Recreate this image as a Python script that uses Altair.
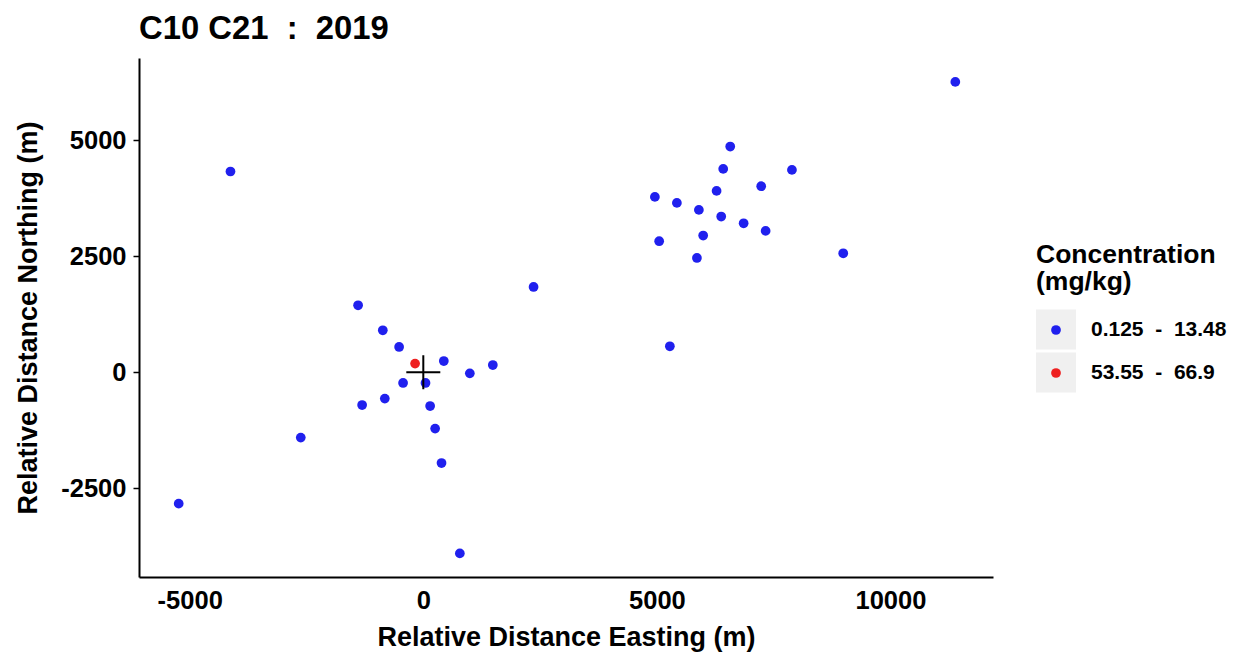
import altair as alt
import pandas as pd

# ---- data ----
east = [-5236, -4128, -2623, -1396, -1310, -867, -824, -518, -433, -176, 47, 146, 253, 390,
        439, 996, 1488, 2360, 782, 5278, 4957, 5049, 5428, 5857, 5899, 5991, 6278, 6377,
        6420, 6570, 6857, 7233, 7328, 7891, 8989, 11388]
north = [-2827, 4322, -1406, 1443, -704, 904, -566, 545, -230, 187, -230, -726, -1212, -1953,
         243, -22, 157, 1837, -3898, 560, 3775, 2821, 3646, 2461, 3495, 2944, 3904, 3353,
         4378, 4860, 3208, 4005, 3043, 4356, 2562, 6251]
group_idx = [0, 0, 0, 0, 0, 0, 0, 0, 0, 1, 0, 0, 0, 0,
             0, 0, 0, 0, 0, 0, 0, 0, 0, 0, 0, 0, 0, 0,
             0, 0, 0, 0, 0, 0, 0, 0]
class_labels = ["0.125\u00a0\u00a0-\u00a0\u00a013.48", "53.55\u00a0\u00a0-\u00a0\u00a066.9"]
class_codes = ["lo", "hi"]
class_colors = ["#2020ee", "#ee2020"]
source_x = [0]
source_y = [0]
x_ticks = [-5000, 0, 5000, 10000]
y_ticks = [-2500, 0, 2500, 5000]

df = pd.DataFrame({
    "x": east,
    "y": north,
    "cls": [class_labels[g] for g in group_idx],
    "grp": [class_codes[g] for g in group_idx],
})
src = pd.DataFrame({"x": source_x, "y": source_y})

FONT = "Liberation Sans"
W, H = 854, 519
PL, PT = 139, 58

xscale = alt.Scale(domain=[-6086, 12195], nice=False, zero=False)
yscale = alt.Scale(domain=[-4406, 6765], nice=False, zero=False)

xaxis = alt.Axis(values=x_ticks, labelExpr="'' + datum.value", title="Relative Distance Easting (m)",
                 grid=False, ticks=False, labelPadding=11, labelFlush=False, labelOverlap=False,
                 titleY=68, titleBaseline="alphabetic")
yaxis = alt.Axis(values=y_ticks, labelExpr="'' + datum.value", title="Relative Distance Northing (m)",
                 grid=False, tickSize=6, labelPadding=7, labelFlush=False, labelOverlap=False,
                 titleX=-103, titleBaseline="alphabetic", titleAngle=270)

# legend background keys (grey squares with labels and title)
keys = alt.Chart(df).mark_square(size=0).encode(
    x=alt.X("x:Q", scale=xscale, axis=xaxis),
    y=alt.Y("y:Q", scale=yscale, axis=yaxis),
    color=alt.Color("cls:N",
                    scale=alt.Scale(domain=class_labels, range=["#f0f0f0", "#f0f0f0"]),
                    legend=alt.Legend(orient="none", legendX=1036 - PL, legendY=184, padding=0,
                                      direction="vertical",
                                      title=["Concentration", "(mg/kg)"], titleFontSize=26.5,
                                      titleLineHeight=27, titlePadding=14, titleColor="black",
                                      titleFont=FONT, titleFontWeight="bold",
                                      symbolType="square", symbolSize=1600, symbolStrokeWidth=0,
                                      symbolOpacity=1, rowPadding=3, labelOffset=15,
                                      labelFontSize=21, labelFont=FONT, labelFontWeight="bold",
                                      labelColor="black")),
)

points = alt.Chart(df).mark_point(filled=True, size=95, opacity=1).encode(
    x=alt.X("x:Q", scale=xscale, axis=xaxis),
    y=alt.Y("y:Q", scale=yscale, axis=yaxis),
    fill=alt.Fill("grp:N",
                  scale=alt.Scale(domain=class_codes, range=class_colors),
                  legend=alt.Legend(orient="none", legendX=897, legendY=252, padding=0,
                                    direction="vertical", title=None,
                                    symbolType="circle", symbolSize=95, symbolStrokeWidth=0,
                                    symbolOpacity=1, rowPadding=3, labelFontSize=40,
                                    labelExpr="''", labelOpacity=0)),
)

cross = alt.Chart(src).mark_point(shape="M-1,0L1,0M0,-1L0,1", size=1156, filled=False,
                                  stroke="black", strokeWidth=2, opacity=1).encode(
    x=alt.X("x:Q", scale=xscale),
    y=alt.Y("y:Q", scale=yscale),
)

chart = alt.layer(keys, points, cross).properties(
    width=W, height=H,
    autosize=alt.AutoSizeParams(type="none"),
    padding={"left": PL, "top": PT, "right": 1234 - PL - W, "bottom": 652 - PT - H},
    title=alt.TitleParams(text="C10 C21\u00a0\u00a0:\u00a0\u00a02019", anchor="start", fontSize=32.8,
                          font=FONT, fontWeight="bold", color="black", offset=12, frame="group"),
).configure(
    font=FONT,
    background="white",
).configure_view(
    stroke=None,
).configure_axis(
    domainColor="black", domainWidth=2, tickColor="black", tickWidth=1.5,
    labelFont=FONT, labelFontWeight="bold", labelFontSize=25.5, labelColor="black",
    titleFont=FONT, titleFontWeight="bold", titleFontSize=27, titleColor="black",
)

chart.save("out.html", embed_options={"renderer": "svg", "actions": False})
